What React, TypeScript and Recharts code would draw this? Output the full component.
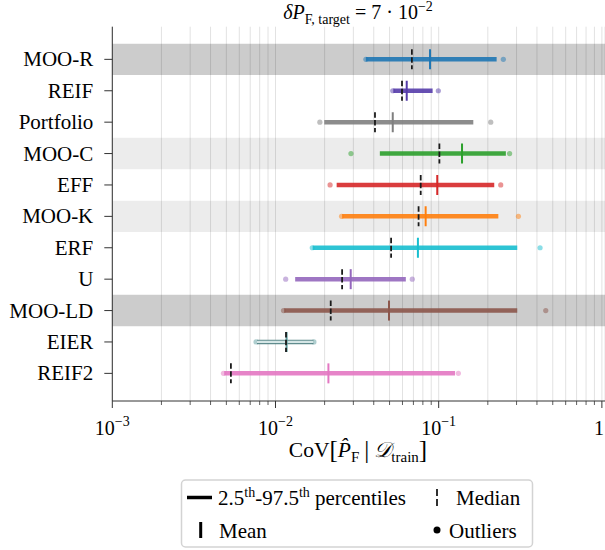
import React from 'react';
import { ScatterChart, Scatter, XAxis, YAxis, CartesianGrid, ReferenceArea } from 'recharts';

const FONT = '"Liberation Serif", "DejaVu Serif", "Times New Roman", serif';

// methods, listed top to bottom
const methods = ['MOO-R', 'REIF', 'Portfolio', 'MOO-C', 'EFF', 'MOO-K', 'ERF', 'U', 'MOO-LD', 'EIER', 'REIF2'];
const methodColors = ['#1f77b4', '#553caa', '#7f7f7f', '#2ca02c', '#d62728', '#ff7f0e', '#17becf', '#9467bd', '#8c564b', '#5f9ea0', '#e377c2'];

// CoV values
const lower = [0.0358, 0.0527, 0.0199, 0.0436, 0.0237, 0.0256, 0.0169, 0.0132, 0.0113, 0.0077, 0.00485];
const upper = [0.2265, 0.0918, 0.163, 0.258, 0.219, 0.232, 0.303, 0.0629, 0.303, 0.0171, 0.126];
const median = [0.0685, 0.0596, 0.0407, 0.101, 0.0776, 0.0753, 0.0511, 0.0256, 0.0218, 0.0116, 0.00533];
const mean = [0.0885, 0.0637, 0.0523, 0.139, 0.098, 0.0832, 0.0746, 0.0289, 0.0496, 0.0117, 0.0211];
const outliers = [
    [0.0358, 0.249],
    [0.0523, 0.0995],
    [0.0187, 0.2085],
    [0.029, 0.272],
    [0.0216, 0.24],
    [0.0254, 0.308],
    [0.0168, 0.418],
    [0.01155, 0.0689],
    [0.0112, 0.453],
    [0.0076, 0.0172],
    [0.0048, 0.132],
];

const darkRows = ['MOO-R', 'MOO-LD'];
const lightRows = ['MOO-C', 'MOO-K'];
const hollowRows = ['EIER'];

const majorTicks = [0.001, 0.01, 0.1, 1];
const majorBase = ['10', '10', '10', '1'];
const majorExp = ['−3', '−2', '−1', ''];
const minorTicks = [
    0.002, 0.003, 0.004, 0.005, 0.006, 0.007, 0.008, 0.009,
    0.02, 0.03, 0.04, 0.05, 0.06, 0.07, 0.08, 0.09,
    0.2, 0.3, 0.4, 0.5, 0.6, 0.7, 0.8, 0.9,
];

const X_DOMAIN = [0.001, 1.045];
const Y_DOMAIN = [-1.04, 10.88];

const XTick = (props: any) => {
    const { x, y, payload } = props;
    const k = majorTicks.indexOf(payload.value);
    if (k < 0) {
        return <line x1={x} x2={x} y1={y} y2={y + 4} stroke="#333" strokeWidth={0.8} />;
    }
    // keep the last label inside the picture
    const tx = Math.min(x, 599);
    return (
        <g>
            <line x1={x} x2={x} y1={y} y2={y + 7} stroke="#333" strokeWidth={1} />
            <text x={tx} y={y + 34} textAnchor="middle" fontSize={20} style={{ fontFamily: FONT }} fill="#000">
                {majorBase[k]}
                {majorExp[k] && (
                    <tspan dy={-9} fontSize={14}>
                        {majorExp[k]}
                    </tspan>
                )}
            </text>
        </g>
    );
};

const YTick = (props: any) => {
    const { x, y, payload } = props;
    return (
        <text x={x} y={y} dy={7} textAnchor="end" fontSize={21} style={{ fontFamily: FONT }} fill="#000">
            {methods[payload.value]}
        </text>
    );
};

const MeanTick = (props: any) => {
    const { cx, cy, payload } = props;
    return <line x1={cx} x2={cx} y1={cy - 10} y2={cy + 10} stroke={payload.color} strokeWidth={2} />;
};

const MedianTick = (props: any) => {
    const { cx, cy } = props;
    return <line x1={cx} x2={cx} y1={cy - 10} y2={cy + 10} stroke="#1a1a1a" strokeWidth={1.8} strokeDasharray="5.5 2.4" />;
};

const OutlierDot = (props: any) => {
    const { cx, cy, payload } = props;
    return <circle cx={cx} cy={cy} r={2.6} fill={payload.color} fillOpacity={0.5} />;
};

const Empty = () => <g />;

const sub = (t: string) => <span style={{ fontSize: 15, position: 'relative', top: 5 }}>{t}</span>;

const App: React.FC = () => {
    const rows = methods.map((_, i) => i);
    const meanData = methods.map((_, i) => ({ x: mean[i], y: i, color: methodColors[i] }));
    const medianData = methods.map((_, i) => ({ x: median[i], y: i }));
    const outlierData = outliers.flatMap((vals, i) => vals.map(v => ({ x: v, y: i, color: methodColors[i] })));

    return (
        <div style={{ position: 'absolute', left: 0, top: 0, width: 605, height: 550, fontFamily: FONT, background: '#fff' }}>
            <div style={{ position: 'absolute', left: 158, width: 400, top: 0, textAlign: 'center', fontSize: 20, lineHeight: '24px' }}>
                <i>δP</i>
                <span style={{ fontSize: 14, position: 'relative', top: 5 }}>F, target</span>
                {' = 7 · 10'}
                <span style={{ fontSize: 14, position: 'relative', top: -8 }}>−2</span>
            </div>

            <ScatterChart width={605} height={470} margin={{ top: 26.7, right: 0, left: 0, bottom: 29 }} style={{ fontFamily: FONT }}>
                <CartesianGrid horizontal={false} stroke="#e2e2e2" strokeWidth={1} />
                {methods.map((m, i) =>
                    darkRows.includes(m) || lightRows.includes(m) ? (
                        <ReferenceArea
                            key={'band-' + m}
                            y1={i - 0.5}
                            y2={i + 0.5}
                            fill="#000"
                            fillOpacity={darkRows.includes(m) ? 0.2 : 0.075}
                            stroke="none"
                        />
                    ) : null
                )}
                <XAxis
                    type="number"
                    dataKey="x"
                    scale="log"
                    domain={X_DOMAIN}
                    allowDataOverflow
                    ticks={[...majorTicks, ...minorTicks]}
                    interval={0}
                    tickSize={0}
                    tickMargin={0}
                    tickLine={false}
                    tick={(p: any) => <XTick {...p} />}
                    stroke="#333"
                    height={40}
                />
                <XAxis
                    xAxisId="top"
                    orientation="top"
                    type="number"
                    scale="log"
                    domain={X_DOMAIN}
                    allowDataOverflow
                    tick={false}
                    tickLine={false}
                    height={0}
                    stroke="#333"
                />
                <YAxis
                    type="number"
                    dataKey="y"
                    domain={Y_DOMAIN}
                    reversed
                    allowDataOverflow
                    ticks={rows}
                    interval={0}
                    width={112.3}
                    tickSize={8}
                    tickMargin={11}
                    tick={(p: any) => <YTick {...p} />}
                    stroke="#333"
                />
                <Scatter data={outlierData} shape={(p: any) => <OutlierDot {...p} />} isAnimationActive={false} />
                {methods.map((m, i) => (
                    <Scatter
                        key={'range-' + m}
                        data={[
                            { x: lower[i], y: i },
                            { x: upper[i], y: i },
                        ]}
                        fill={methodColors[i]}
                        line={{
                            stroke: hollowRows.includes(m) ? '#4f7f82' : methodColors[i],
                            strokeWidth: 4.5,
                            strokeOpacity: 0.9,
                        }}
                        shape={Empty}
                        isAnimationActive={false}
                    />
                ))}
                {methods.map((m, i) =>
                    hollowRows.includes(m) ? (
                        <Scatter
                            key={'inner-' + m}
                            data={[
                                { x: lower[i], y: i },
                                { x: upper[i], y: i },
                            ]}
                            fill="#d5e6e6"
                            line={{ stroke: '#d5e6e6', strokeWidth: 2.2 }}
                            shape={Empty}
                            isAnimationActive={false}
                        />
                    ) : null
                )}
                <Scatter data={meanData} shape={(p: any) => <MeanTick {...p} />} isAnimationActive={false} />
                <Scatter data={medianData} shape={(p: any) => <MedianTick {...p} />} isAnimationActive={false} />
            </ScatterChart>

            <div style={{ position: 'absolute', left: 108, width: 500, top: 436, textAlign: 'center', fontSize: 21.5, lineHeight: '26px' }}>
                {'CoV'}
                <span style={{ fontSize: 25, position: 'relative', top: 1 }}>[</span>
                <i>P̂</i>
                {sub('F')}
                <span style={{ margin: '0 5px', fontSize: 25, position: 'relative', top: 1 }}>|</span>
                <i>𝒟</i>
                {sub('train')}
                <span style={{ fontSize: 25, position: 'relative', top: 1 }}>]</span>
            </div>

            <svg style={{ position: 'absolute', left: 0, top: 0, fontFamily: FONT }} width={605} height={550}>
                <rect x={181.5} y={480} width={351} height={67} rx={4} fill="#fff" stroke="#d3d3d3" strokeWidth={1.5} />
                <line x1={187} x2={212} y1={497.5} y2={497.5} stroke="#000" strokeWidth={3.5} />
                <text x={218} y={504.5} fontSize={21} style={{ fontFamily: FONT }}>
                    2.5<tspan dy={-8} fontSize={14}>th</tspan>
                    <tspan dy={8}>-97.5</tspan>
                    <tspan dy={-8} fontSize={14}>th</tspan>
                    <tspan dy={8}> percentiles</tspan>
                </text>
                <line x1={437} x2={437} y1={489} y2={506} stroke="#1a1a1a" strokeWidth={1.8} strokeDasharray="7 3" />
                <text x={456} y={504.5} fontSize={21} style={{ fontFamily: FONT }}>Median</text>
                <line x1={200.7} x2={200.7} y1={522} y2={538} stroke="#000" strokeWidth={3} />
                <text x={219} y={537.5} fontSize={21} style={{ fontFamily: FONT }}>Mean</text>
                <circle cx={437} cy={530} r={3.5} fill="#000" />
                <text x={449} y={537.5} fontSize={21} style={{ fontFamily: FONT }}>Outliers</text>
            </svg>
        </div>
    );
};

export default App;
